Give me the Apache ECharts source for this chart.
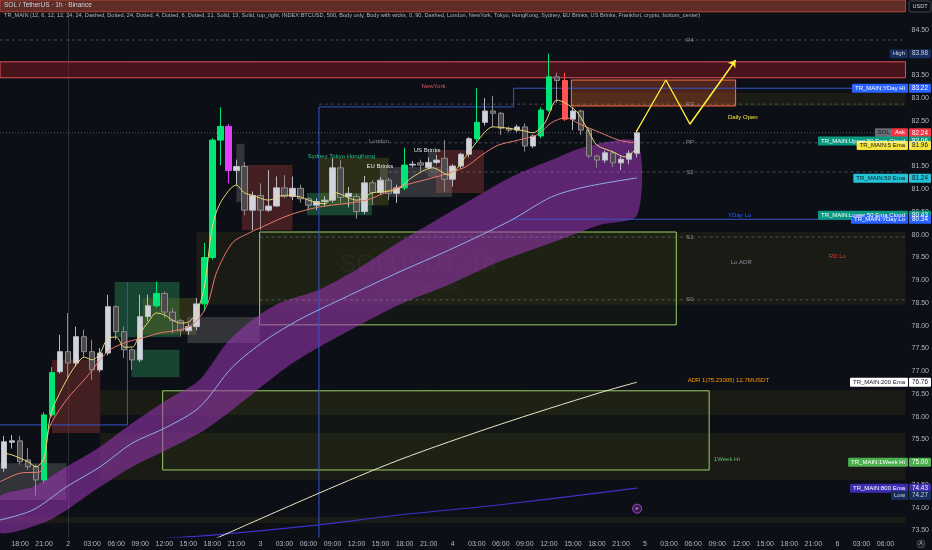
<!DOCTYPE html>
<html><head><meta charset="utf-8">
<script src="https://cdn.jsdelivr.net/npm/echarts/dist/echarts.min.js"></script>
<style>html,body{margin:0;padding:0;background:#0d0f16;}#c{width:932px;height:550px;}</style>
</head><body><div id="c"></div>
<script>
// ---------- DATA ----------
const candleHours = [-8,-7,-6,-5,-4,-3,-2,-1,0,1,2,3,4,5,6,7,8,9,10,11,12,13,14,15,16,17,18,19,20,21,22,23,24,25,26,27,28,29,30,31,32,33,34,35,36,37,38,39,40,41,42,43,44,45,46,47,48,49,50,51,52,53,54,55,56,57,58,59,60,61,62,63,64,65,66,67,68,69,70,71];
const opens  = [74.87,75.44,75.47,75.05,74.90,74.61,76.04,76.99,77.43,77.18,77.76,77.43,77.03,77.40,78.42,77.87,77.47,77.25,78.20,78.44,78.71,78.30,78.11,77.89,77.98,78.48,79.50,82.08,82.38,81.41,81.50,80.54,80.86,80.54,80.63,81.03,80.84,81.02,80.79,80.65,80.73,80.76,81.47,80.84,80.84,80.51,81.14,80.93,81.20,80.91,81.03,81.53,81.58,81.48,81.59,81.68,81.22,81.51,81.77,82.11,82.47,82.72,82.67,82.34,82.30,82.37,81.95,82.17,82.74,83.47,83.39,82.54,82.72,82.30,81.73,81.64,81.80,81.58,81.66,81.79];
const closes = [75.45,75.47,75.01,74.90,74.61,76.04,76.97,77.43,77.18,77.76,77.43,77.03,77.40,78.42,77.87,77.47,77.25,78.20,78.44,78.71,78.30,78.11,77.89,77.98,78.48,79.50,82.08,82.38,81.41,81.50,80.54,80.86,80.54,80.63,81.03,80.84,81.02,80.79,80.65,80.73,80.76,81.47,80.82,80.91,80.51,81.14,80.93,81.20,80.91,81.03,81.53,81.55,81.53,81.59,81.64,81.22,81.51,81.77,82.11,82.47,82.72,82.67,82.34,82.30,82.37,81.95,82.17,82.74,83.47,83.39,82.54,82.72,82.30,81.73,81.64,81.80,81.58,81.66,81.79,82.24];
const lows   = [74.79,75.30,74.95,74.83,74.27,74.55,76.00,76.95,76.87,77.10,77.32,76.81,76.98,77.35,77.69,77.29,77.03,77.20,78.10,78.40,78.17,77.84,77.76,77.80,77.90,78.32,79.45,81.53,81.13,81.09,80.43,80.10,80.10,80.50,80.62,80.80,80.76,80.70,80.54,80.54,80.62,80.70,80.70,80.60,80.35,80.45,80.65,80.88,80.76,80.70,80.98,81.48,81.40,81.44,81.55,80.95,81.06,81.45,81.70,82.05,82.40,82.37,82.19,82.25,82.25,81.83,81.91,82.12,82.70,82.90,82.50,82.30,82.19,81.68,81.47,81.58,81.49,81.42,81.55,81.70];
const highs  = [75.58,75.60,75.58,75.31,74.95,76.10,77.09,77.80,78.28,77.98,77.91,77.69,77.51,78.68,78.45,77.98,77.50,78.68,78.68,78.97,78.75,78.39,78.15,78.05,78.61,79.82,82.12,82.80,82.43,81.65,81.60,80.95,81.13,81.42,81.28,81.31,81.28,81.10,80.82,80.80,80.85,81.68,81.64,81.05,80.90,81.29,81.20,81.27,81.25,81.10,81.91,81.62,81.65,81.70,81.75,82.08,81.55,81.80,82.15,83.22,83.00,83.05,82.70,82.38,82.42,82.45,82.20,82.80,83.98,83.56,83.56,82.80,82.75,82.35,81.76,81.85,81.85,81.72,81.85,82.30];
// candle colour class: u up-grey, d down-grey, g green, m magenta, r red
const kinds = ['u','u','d','d','d','g','g','u','d','u','d','d','u','u','d','d','d','u','u','g','d','d','d','u','u','g','g','g','m','u','d','u','d','u','u','d','u','d','d','u','u','u','d','u','d','u','d','u','d','u','g','u','d','u','u','d','u','u','u','g','u','d','d','d','u','d','u','g','g','d','r','u','d','d','d','u','d','u','u','u'];

// time axis tick labels
const xTickHours  = [-6,-3,0,3,6,9,12,15,18,21,24,27,30,33,36,39,42,45,48,51,54,57,60,63,66,69,72,75,78,81,84,87,90,93,96,99,102];
const xTickLabels = ['18:00','21:00','2','03:00','06:00','09:00','12:00','15:00','18:00','21:00','3','03:00','06:00','09:00','12:00','15:00','18:00','21:00','4','03:00','06:00','09:00','12:00','15:00','18:00','21:00','5','03:00','06:00','09:00','12:00','15:00','18:00','21:00','6','03:00','06:00'];

// indicator lines [hour, price]
const ema5 = [[-8,75.20],[-7,75.16],[-5,75.01],[-4,74.90],[-3,75.09],[-2.5,75.71],[-2,76.15],[0,76.87],[1,77.14],[2,77.31],[3,77.25],[4,77.40],[5,77.73],[6,77.75],[7,77.53],[8,77.53],[9,77.84],[10,78.08],[11,78.28],[12,78.24],[13,78.13],[14,78.06],[15,78.08],[16,78.28],[17,78.85],[18,80.17],[19,80.70],[21,81.09],[22,80.92],[23,80.87],[25,80.76],[27,80.87],[29,80.83],[30,80.76],[32,80.68],[33.5,80.92],[35,80.81],[36,80.76],[38,80.92],[40,80.96],[41,80.98],[43,81.27],[45.5,81.47],[47.5,81.31],[49.5,81.69],[51,82.04],[53,82.37],[54.5,82.35],[57,82.28],[58,82.24],[59.5,82.46],[61,82.96],[62,82.90],[63.5,82.70],[65,82.26],[66,81.97],[68,81.82],[69.5,81.71],[71,81.91]];
const ema13 = [[-8.5,74.57],[-6,74.76],[-3.5,74.79],[-2.3,75.77],[-0.2,76.37],[2.3,76.87],[4,77.25],[5.2,77.47],[7.3,77.64],[9.3,77.73],[11.4,77.84],[13.9,77.91],[15.5,78.02],[16.8,78.28],[17.6,78.57],[18.5,79.16],[20.5,79.82],[22.6,80.04],[24.7,80.21],[26.7,80.37],[28.8,80.50],[31.3,80.61],[32.9,80.65],[37.2,80.76],[41.3,81.05],[46.3,81.29],[49.6,81.49],[51.6,81.75],[53.7,81.97],[56.2,82.08],[58.7,82.21],[60.3,82.46],[62.1,82.57],[64.1,82.41],[66.2,82.26],[68.7,82.08],[70.8,82.02]];
const ema50 = [[-8.5,73.73],[-4.4,73.95],[-0.2,74.46],[4,74.90],[8,75.42],[12.3,75.77],[16.4,76.21],[20.5,77.09],[24.7,77.69],[28.8,78.13],[31.3,78.35],[41.3,79.18],[47.5,79.66],[55.3,80.32],[60.3,80.83],[64.5,81.05],[71,81.25]];
const cloudUpper = [[-8.5,74.24],[-4.4,74.46],[-0.2,74.90],[4,75.34],[8,75.86],[12.3,76.37],[16.4,76.81],[19.8,77.62],[23,78.13],[26.4,78.50],[31.3,78.79],[36.3,79.27],[41.3,79.84],[49.6,80.70],[55.3,81.27],[60.3,81.64],[64.5,81.93],[71,82.04]];
const cloudLower = [[-8.5,73.45],[-2.3,73.73],[4,74.46],[8,74.90],[12.3,75.27],[16.4,75.64],[20.5,76.15],[24.7,76.74],[28,77.18],[31.3,77.53],[41.3,78.46],[47.5,78.90],[53.7,79.40],[61.2,79.88],[66.2,80.21],[71,80.43]];
const ema200 = [[18,73.29],[31.3,74.32],[41.3,75.05],[53.7,75.82],[66.2,76.52],[71,76.76]];
const ema800 = [[10.2,73.31],[18,73.40],[31,73.62],[41.3,73.84],[53.7,74.06],[71,74.43]];
const projection = [[70.9,82.26],[74.6,83.40],[77.6,82.43],[83.3,83.84]];

// zones [startHour, endHour, top, bottom]
const headerZone = [[-8.5,104.5,85.20,84.90]];
const redZones = [[-8.5,104.5,83.80,83.45]];
const orangeZones = [[62.8,83.3,83.40,82.83]];
const oliveBands = [[62.8,104.5,83.12,82.83],[16.0,104.5,80.06,78.46],[4.0,104.5,76.59,76.04],[4.0,104.5,75.64,74.61],[-8.5,104.5,73.80,73.66]];
const greenFrames = [[23.9,75.9,80.06,78.02],[11.8,80.0,76.57,74.83]];
const redSessions = [[-2.0,4.0,77.25,75.64],[21.7,28.0,81.53,80.10],[45.9,51.9,81.86,80.92]];
const greenSessions = [[29.8,37.9,80.92,80.43],[5.8,13.9,78.96,77.75],[7.9,13.9,77.47,76.87]];
const oliveSessions = [[31.3,40.0,81.69,80.65],[9.3,16.0,78.61,77.80]];
const greySessions = [[40.0,47.9,81.49,80.83],[14.9,23.9,78.19,77.62],[-8.5,-0.2,74.98,74.17],[21.0,22.0,82.00,80.72],[38.9,39.9,81.49,80.92],[44.9,46.0,81.84,81.27]];

// levels drawn as dashed lines [startHour, endHour, price]
const dashedLevels = [[-8.5,104.5,84.28],[31.3,104.5,82.87],[25,104.5,82.02],[40,104.5,81.38],[23.9,104.5,79.95],[23.9,104.5,78.57]];
const blueSteps = [[[31.3,73.2],[31.3,82.81],[55.6,82.81],[55.6,83.22],[104.5,83.22]],[[55.6,80.34],[104.5,80.34]],[[-8.5,75.82],[7.4,75.82],[7.4,78.96]]];
const lastPrice = 82.24;

// chart annotations [text, hour, price]
const notes = [['R4',77.6,84.28],['R3',77.6,82.87],['PP',77.6,82.02],['S2',77.6,81.38],['S1',77.6,79.95],['S0',77.6,78.57],['Daily Open',84.2,82.58],['YDay Lo',83.8,80.43],['Lo.ADR',84.0,79.40],['RD Lo',96.0,79.53],['ADR 1(75.23005) 12.7MUSDT',82.4,76.81],['1Week Hi',82.2,75.07],['NewYork',45.6,83.26],['London',38.8,82.06],['Sydney Tokyo HongKong',34.1,81.73],['EU Brinks',38.9,81.50],['US Brinks',44.8,81.86]];

// right-side price tags
const tags = [
 {name:'High',value:83.98,bg:'#172d5c',fg:'#d1d4dc'},
 {name:'TR_MAIN:YDay Hi',value:83.22,bg:'#2962ff',fg:'#ffffff'},
 {name:'Ask',value:82.24,bg:'#f23645',fg:'#ffffff',pre:'SOL'},
 {name:'TR_MAIN:Upper 50 Ema Cloud',value:82.06,bg:'#089981',fg:'#ffffff'},
 {name:'TR_MAIN:5 Ema',value:81.96,bg:'#f5e342',fg:'#131722'},
 {name:'TR_MAIN:50 Ema',value:81.24,bg:'#22c3d6',fg:'#131722'},
 {name:'TR_MAIN:Lower 50 Ema Cloud',value:80.43,bg:'#089981',fg:'#ffffff'},
 {name:'TR_MAIN:YDay Lo',value:80.34,bg:'#2962ff',fg:'#ffffff'},
 {name:'TR_MAIN:200 Ema',value:76.76,bg:'#ffffff',fg:'#131722'},
 {name:'TR_MAIN:1Week Hi',value:75.00,bg:'#4caf50',fg:'#ffffff'},
 {name:'TR_MAIN:800 Ema',value:74.43,bg:'#3a2db0',fg:'#ffffff'},
 {name:'Low',value:74.27,bg:'#172d5c',fg:'#d1d4dc'}
];

// ---------- CHART ----------
const FONT = "'Liberation Sans', 'DejaVu Sans', sans-serif";
const X0 = -8.5, X1 = 104.5, YMIN = 73.357, YMAX = 85.159;
const hourCats = [];
for (let h = -8; h <= 104; h++) hourCats.push(String(h));
const tickMap = {};
xTickHours.forEach((h, i) => tickMap[String(h)] = xTickLabels[i]);

const kindStyle = {
  u:{color:'#d1d4dc',color0:'#d1d4dc',borderColor:'#b8bbc2',borderColor0:'#b8bbc2'},
  d:{color:'#4d4a4c',color0:'#4d4a4c',borderColor:'#8f8b8c',borderColor0:'#8f8b8c'},
  g:{color:'#00e676',color0:'#00e676',borderColor:'#00e676',borderColor0:'#00e676'},
  m:{color:'#e040fb',color0:'#e040fb',borderColor:'#e040fb',borderColor0:'#e040fb'},
  r:{color:'#ff5252',color0:'#ff5252',borderColor:'#ff5252',borderColor0:'#ff5252'}
};
const candleData = hourCats.map(c => '-');
candleHours.forEach((h, i) => {
  candleData[h + 8] = {value:[opens[i], closes[i], lows[i], highs[i]], itemStyle:kindStyle[kinds[i]]};
});

function areas(list, style) {
  return list.map(b => [{xAxis:b[0], yAxis:b[2], itemStyle:style}, {xAxis:b[1], yAxis:b[3]}]);
}
const areaData = [].concat(
  areas(headerZone, {color:'rgba(98,46,40,0.97)', borderColor:'#b8443a', borderWidth:1}),
  areas(oliveBands, {color:'rgba(60,62,18,0.28)'}),
  areas(greenFrames, {color:'rgba(70,95,25,0.10)', borderColor:'#9ccc65', borderWidth:1}),
  areas(redZones, {color:'rgba(120,25,35,0.55)', borderColor:'#e0505a', borderWidth:1}),
  areas(orangeZones, {color:'rgba(200,80,40,0.35)', borderColor:'#ff7043', borderWidth:1}),
  areas(redSessions, {color:'rgba(150,55,50,0.40)'}),
  areas(greenSessions, {color:'rgba(40,150,90,0.40)'}),
  areas(oliveSessions, {color:'rgba(120,120,30,0.30)'}),
  areas(greySessions, {color:'rgba(150,150,155,0.28)'})
);

const dashedSeries = dashedLevels.map(l => ({
  type:'line', xAxisIndex:1, yAxisIndex:0, symbol:'none', silent:true, z:3,
  data:[[l[0], l[2]], [l[1], l[2]]],
  lineStyle:{color:'rgba(160,163,175,0.4)', width:1, type:[3,3]}
}));
const blueSeries = blueSteps.map(s => ({
  type:'line', xAxisIndex:1, yAxisIndex:0, symbol:'none', silent:true, z:3,
  data:s, lineStyle:{color:'#3556c8', width:1}
}));
function lineS(data, color, width, z, smooth) {
  return {type:'line', xAxisIndex:1, yAxisIndex:0, symbol:'none', silent:true, z:z||4,
    smooth: smooth === undefined ? 0.3 : smooth, data:data, lineStyle:{color:color, width:width}};
}
function noteColor(t) {
  if (t === 'Daily Open') return '#ffeb3b';
  if (t === 'YDay Lo') return '#2962ff';
  if (t === 'RD Lo') return '#e53935';
  if (t === 'NewYork') return '#e05560';
  if (t === '1Week Hi') return '#66bb6a';
  if (t.indexOf('ADR 1') === 0) return '#ff9800';
  if (t === 'Sydney Tokyo HongKong') return '#26c281';
  if (t === 'US Brinks' || t === 'EU Brinks') return '#e8e8e8';
  return '#8a8d96';
}

const option = {
  backgroundColor:'#0d0f16',
  animation:false,
  grid:{left:0, right:24, top:0, bottom:13},
  xAxis:[
    {type:'category', data:hourCats, boundaryGap:true,
     axisLine:{show:false}, axisTick:{show:false}, splitLine:{show:false},
     axisLabel:{color:'#b2b5be', fontSize:7, fontFamily:FONT, margin:4,
       interval:(idx, val) => tickMap[val] !== undefined, formatter:v => tickMap[v] || ''}},
    {type:'value', min:X0, max:X1, show:false}
  ],
  yAxis:{type:'value', position:'right', min:YMIN, max:YMAX, splitNumber:24, scale:true,
    axisLine:{show:true, lineStyle:{color:'#2a2e39'}}, axisTick:{show:false}, splitLine:{show:false},
    axisLabel:{color:'#b2b5be', fontSize:7, fontFamily:FONT, margin:6, showMinLabel:false, showMaxLabel:false,
      formatter:v => v.toFixed(2)}},
  series:[
    {type:'line', xAxisIndex:1, yAxisIndex:0, data:[], z:1, silent:true,
     markArea:{silent:true, data:areaData}},
    {type:'custom', xAxisIndex:1, yAxisIndex:0, data:[0], z:2, silent:true, clip:true,
     renderItem:(p, api) => {
       const pts = [];
       cloudUpper.forEach(d => pts.push(api.coord(d)));
       for (let i = cloudLower.length - 1; i >= 0; i--) pts.push(api.coord(cloudLower[i]));
       return {type:'polygon', shape:{points:pts, smooth:0.25}, style:{fill:'rgba(160,55,185,0.55)'}};
     }},
    ...dashedSeries,
    ...blueSeries,
    {type:'line', xAxisIndex:1, yAxisIndex:0, symbol:'none', silent:true, z:3,
     data:[[X0, lastPrice],[X1, lastPrice]], lineStyle:{color:'rgba(170,170,175,0.5)', width:1, type:[1,2]}},
    lineS(ema800, '#3b33c8', 1.2, 4),
    lineS(ema200, '#eee6c8', 1, 4),
    lineS(ema50, '#8fb0e8', 1, 4),
    lineS(ema13, '#e8796c', 1, 6),
    {type:'candlestick', xAxisIndex:0, yAxisIndex:0, data:candleData, barWidth:6, z:5, silent:true},
    lineS(ema5, '#e8d870', 1, 7),
    {type:'line', xAxisIndex:1, yAxisIndex:0, symbol:'none', silent:true, z:8, smooth:false,
     data:projection, lineStyle:{color:'#ffeb3b', width:1.3},
     markLine:{silent:true, symbol:['none','arrow'], symbolSize:7,
       lineStyle:{color:'#ffeb3b', width:1.3, type:'solid'}, label:{show:false},
       data:[[{coord:projection[2]}, {coord:projection[3]}]]}},
    {type:'line', xAxisIndex:1, yAxisIndex:0, data:[], z:9, silent:true,
     markPoint:{silent:true, symbol:'circle', symbolSize:0,
       data:notes.map(n => ({coord:[n[1], n[2]], name:n[0],
         label:{show:true, formatter:n[0], fontSize:6, fontFamily:FONT, color:noteColor(n[0])}}))}}
  ]
};
const chart = echarts.init(document.getElementById('c'));
chart.setOption(option);

// overlay graphics: header texts, tags, watermark
const ctx = document.createElement('canvas').getContext('2d');
function tw(t, size) { ctx.font = size + 'px ' + FONT; return ctx.measureText(t).width; }
const g = [];
g.push({type:'text', x:418, y:265, z:0, silent:true, style:{text:'SOLUSDT, 1h', fill:'rgba(255,255,255,0.05)', font:'25px ' + FONT, align:'center', verticalAlign:'middle'}});
g.push({type:'text', x:418, y:288, z:0, silent:true, style:{text:'Solana / TetherUS', fill:'rgba(255,255,255,0.05)', font:'10px ' + FONT, align:'center', verticalAlign:'middle'}});
g.push({type:'text', x:4, y:2, z:20, silent:true, style:{text:'SOL / TetherUS · 1h · Binance', fill:'#d1d4dc', font:'6.5px ' + FONT}});
g.push({type:'text', x:4, y:12, z:20, silent:true, style:{text:'TR_MAIN (12, 6, 12, 12, 24, 24, Dashed, Dotted, 24, Dotted, 4, Dotted, 6, Dotted, 21, Solid, 13, Solid, top_right, INDEX:BTCUSD, 500, Body only, Body with wicks, 0, 90, Dashed, London, NewYork, Tokyo, HongKong, Sydney, EU Brinks, US Brinks, Frankfurt, crypto, bottom_center)', fill:'#b2b5be', font:'5.6px ' + FONT}});
g.push({type:'rect', shape:{x:909, y:1, width:22, height:11, r:2}, z:20, silent:true, style:{fill:'#0d0f16', stroke:'#50535e', lineWidth:0.8}});
g.push({type:'text', x:920, y:6.5, z:21, silent:true, style:{text:'USDT', fill:'#d1d4dc', font:'5.6px ' + FONT, align:'center', verticalAlign:'middle'}});
tags.forEach(t => {
  const y = chart.convertToPixel({yAxisIndex:0}, t.value);
  const h = 9;
  const w = tw(t.name, 6) + 6;
  g.push({type:'rect', shape:{x:908 - w, y:y - h/2, width:w, height:h, r:1}, z:30, silent:true, style:{fill:t.bg}});
  g.push({type:'text', x:908 - w/2, y:y, z:31, silent:true, style:{text:t.name, fill:t.fg, font:'6px ' + FONT, align:'center', verticalAlign:'middle'}});
  if (t.pre) {
    const pw = tw(t.pre, 6) + 5;
    g.push({type:'rect', shape:{x:908 - w - pw, y:y - h/2, width:pw, height:h}, z:30, silent:true, style:{fill:'#6a6d78'}});
    g.push({type:'text', x:908 - w - pw/2, y:y, z:31, silent:true, style:{text:t.pre, fill:'#131722', font:'6px ' + FONT, align:'center', verticalAlign:'middle'}});
  }
  g.push({type:'rect', shape:{x:909, y:y - h/2, width:22, height:h, r:1}, z:30, silent:true, style:{fill:t.bg}});
  g.push({type:'text', x:920, y:y, z:31, silent:true, style:{text:t.value.toFixed(2), fill:t.fg, font:'6.3px ' + FONT, align:'center', verticalAlign:'middle'}});
});
const cp = chart.convertToPixel({xAxisIndex:1, yAxisIndex:0}, [71, 73.98]);
g.push({type:'circle', shape:{cx:cp[0], cy:cp[1], r:4.5}, z:20, silent:true, style:{fill:'rgba(90,30,110,0.6)', stroke:'#9c4dcc', lineWidth:1}});
g.push({type:'text', x:cp[0], y:cp[1], z:21, silent:true, style:{text:'e', fill:'#d6a6ea', font:'6px ' + FONT, align:'center', verticalAlign:'middle'}});
g.push({type:'circle', shape:{cx:921, cy:544, r:4}, z:20, silent:true, style:{fill:'#1e222d', stroke:'#50535e', lineWidth:0.8}});
g.push({type:'text', x:921, y:544, z:21, silent:true, style:{text:'A', fill:'#b2b5be', font:'5px ' + FONT, align:'center', verticalAlign:'middle'}});
chart.setOption({graphic:g});
</script></body></html>
